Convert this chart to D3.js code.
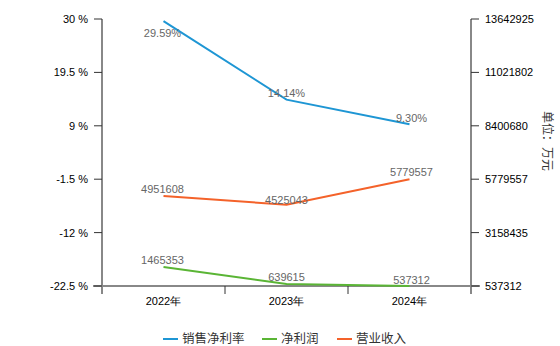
<!DOCTYPE html>
<html><head><meta charset="utf-8">
<script src="https://cdn.jsdelivr.net/npm/d3@7/dist/d3.min.js"></script>
<style>body{margin:0;background:#fff;}svg{display:block;}</style>
</head><body>
<svg id="c" width="560" height="346"></svg>
<script>
const categories = ["2022年", "2023年", "2024年"];
const netMargin = [29.59, 14.14, 9.30];
const netMarginLabels = ["29.59%", "14.14%", "9.30%"];
const netProfit = [1465353, 639615, 537312];
const revenue = [4951608, 4525043, 5779557];
const leftTicks = [30, 19.5, 9, -1.5, -12, -22.5];
const rightTicks = [13642925, 11021802, 8400680, 5779557, 3158435, 537312];
const seriesNames = ["销售净利率", "净利润", "营业收入"];
const colors = ["#1e96d4", "#5ab535", "#f4622a"];

const svg = d3.select("#c");
const L = 102, R = 471, T = 19, B = 286;
const x = d3.scaleBand().domain(categories).range([L, R]);
const yL = d3.scaleLinear().domain([-22.5, 30]).range([B, T]);
const yR = d3.scaleLinear().domain([537312, 13642925]).range([B, T]);
const font = "'Liberation Sans', sans-serif";
const fs = 11;

// axes lines
svg.append("line").attr("x1", L).attr("x2", L).attr("y1", T).attr("y2", B + 8).attr("stroke", "#888").attr("stroke-width", 2);
svg.append("line").attr("x1", R).attr("x2", R).attr("y1", T).attr("y2", B + 8).attr("stroke", "#888").attr("stroke-width", 2);
svg.append("line").attr("x1", L - 9).attr("x2", R + 9).attr("y1", B).attr("y2", B).attr("stroke", "#888").attr("stroke-width", 2);

// left ticks
const gl = svg.append("g");
leftTicks.forEach(v => {
  const y = yL(v);
  gl.append("line").attr("x1", L - 8).attr("x2", L).attr("y1", y).attr("y2", y).attr("stroke", "#333");
  gl.append("text").attr("x", 88).attr("y", y + 4).attr("text-anchor", "end")
    .attr("font-family", font).attr("font-size", fs).attr("fill", "#000").text(v + " %");
});
// right ticks
rightTicks.forEach(v => {
  const y = yR(v);
  gl.append("line").attr("x1", R).attr("x2", R + 8).attr("y1", y).attr("y2", y).attr("stroke", "#333");
  gl.append("text").attr("x", 485).attr("y", y + 4).attr("text-anchor", "start")
    .attr("font-family", font).attr("font-size", fs).attr("fill", "#000").text(v);
});
// x ticks at band boundaries
categories.slice(1).forEach(c => {
  const xx = x(c);
  gl.append("line").attr("x1", xx).attr("x2", xx).attr("y1", B).attr("y2", B + 8).attr("stroke", "#333");
});
categories.forEach(c => {
  gl.append("text").attr("x", x(c) + x.bandwidth() / 2).attr("y", 305).attr("text-anchor", "middle")
    .attr("font-family", font).attr("font-size", fs).attr("fill", "#000").text(c);
});

// right axis title
svg.append("text").attr("transform", "translate(543,141) rotate(90)").attr("text-anchor", "middle")
  .attr("font-family", "'Noto Sans CJK SC', sans-serif").attr("font-size", 12).attr("fill", "#333").text("单位：万元");

const cx = c => x(c) + x.bandwidth() / 2;
const line = (ys) => d3.line().x((d, i) => cx(categories[i])).y(d => ys(d));

function drawSeries(data, ys, color, labels, offsets) {
  svg.append("path").datum(data).attr("d", line(ys)).attr("fill", "none").attr("stroke", color).attr("stroke-width", 2);
  data.forEach((d, i) => {
    svg.append("text").attr("x", cx(categories[i]) + offsets[i][0]).attr("y", ys(d) + offsets[i][1])
      .attr("text-anchor", "middle").attr("font-family", font).attr("font-size", fs).attr("fill", "#666")
      .text(labels[i]);
  });
}
drawSeries(netMargin, yL, colors[0], netMarginLabels, [[-1, 16], [0, -3], [2, -2]]);
drawSeries(netProfit, yR, colors[1], netProfit.map(String), [[-1, -3], [0, -3], [2, -2]]);
drawSeries(revenue, yR, colors[2], revenue.map(String), [[-1, -3], [0, -1], [2, -3]]);

// legend
const legendX = [163, 262, 337];
seriesNames.forEach((n, i) => {
  svg.append("line").attr("x1", legendX[i]).attr("x2", legendX[i] + 15).attr("y1", 339).attr("y2", 339)
    .attr("stroke", colors[i]).attr("stroke-width", 2);
  svg.append("text").attr("x", legendX[i] + 19).attr("y", 343).attr("font-family", "'Noto Sans CJK SC', sans-serif")
    .attr("font-size", 12.5).attr("fill", "#333").text(n);
});
</script>
</body></html>
